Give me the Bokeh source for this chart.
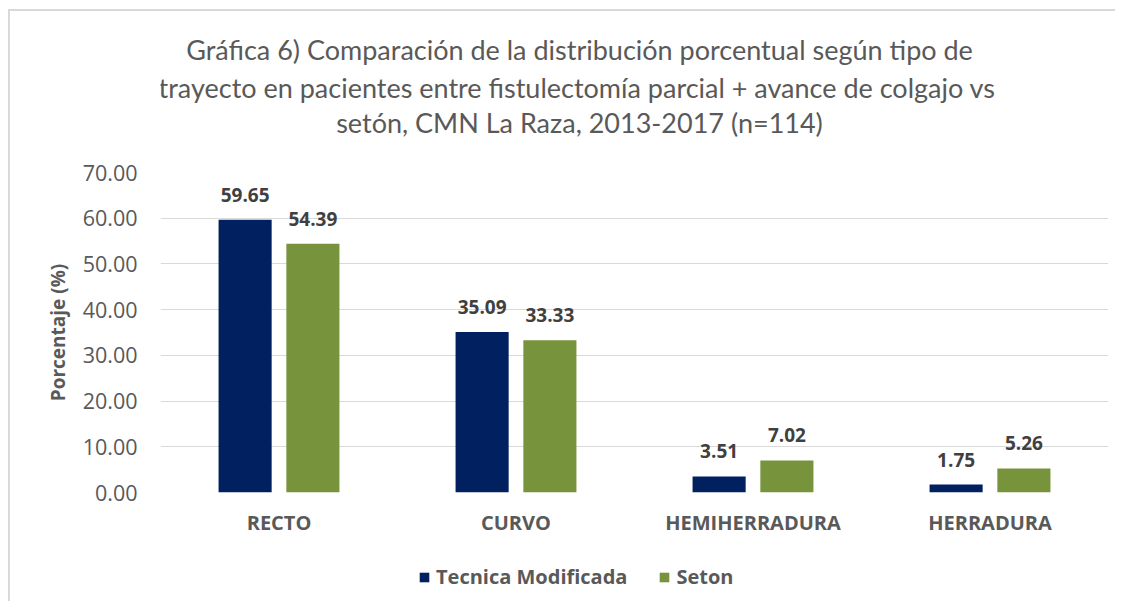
from bokeh.plotting import figure
from bokeh.layouts import column
from bokeh.models import (ColumnDataSource, FactorRange, FixedTicker, NumeralTickFormatter,
                          Legend, LegendItem, Range1d)
from bokeh.transform import dodge
from bokeh.core.properties import value
from bokeh.embed import file_html
from bokeh.resources import INLINE

categories = ["RECTO", "CURVO", "HEMIHERRADURA", "HERRADURA"]
tecnica_modificada = [59.65, 35.09, 3.51, 1.75]
seton = [54.39, 33.33, 7.02, 5.26]
series_names = ["Tecnica Modificada", "Seton"]
y_ticks = [0, 10, 20, 30, 40, 50, 60, 70]
title_lines = [
    "Gráfica 6) Comparación de la distribución porcentual según tipo de",
    "trayecto en pacientes  entre fistulectomía parcial + avance de colgajo vs",
    "setón, CMN La Raza, 2013-2017 (n=114)",
]
y_label = "Porcentaje (%)"

NAVY = "#002060"
GREEN = "#77933C"
GRAY = "#595959"
DARK = "#404040"
W = 1105
LEFT = 150
RIGHT = 7

# ---------------- title strip (frame shares the chart's left/right borders) ----------------
TH = 141
pt = figure(width=W, height=TH, x_range=Range1d(LEFT, W - RIGHT), y_range=Range1d(TH, 0),
            output_backend="svg", toolbar_location=None, title=None,
            x_axis_location=None, y_axis_location=None,
            min_border_left=LEFT, min_border_right=RIGHT,
            min_border_top=0, min_border_bottom=0)
pt.grid.visible = False
pt.outline_line_color = None
tsrc = ColumnDataSource(data=dict(txt=title_lines, x=[569, 570, 569], y=[38, 76, 111]))
pt.text(x="x", y="y", text="txt", source=tsrc, text_align="center", text_baseline="middle",
        text_font=value("Lato"), text_font_size="27px", text_color=GRAY)

# ---------------- main chart ----------------
src = ColumnDataSource(data=dict(
    cat=categories,
    tm=tecnica_modificada,
    se=seton,
    tm_lbl=[f"{v:.2f}" for v in tecnica_modificada],
    se_lbl=[f"{v:.2f}" for v in seton],
))

p = figure(
    x_range=FactorRange(*categories, range_padding=0),
    y_range=(0, 70),
    width=W, height=396,
    output_backend="svg", toolbar_location=None, title=None,
    min_border_left=LEFT, min_border_right=RIGHT, min_border_top=20, min_border_bottom=56,
)
p.outline_line_color = None
p.xgrid.grid_line_color = None
p.ygrid.grid_line_color = "#d9d9d9"
p.ygrid.grid_line_width = 1

bw = 0.224
p.vbar(x=dodge("cat", -0.143, range=p.x_range), top="tm", width=bw, source=src,
       fill_color=NAVY, line_color=None)
p.vbar(x=dodge("cat", 0.143, range=p.x_range), top="se", width=bw, source=src,
       fill_color=GREEN, line_color=None)

for off, col in [(-0.143, "tm"), (0.143, "se")]:
    p.text(x=dodge("cat", off, range=p.x_range), y=col, text=col + "_lbl", source=src,
           text_align="center", text_baseline="alphabetic", y_offset=-25,
           text_font=value("Open Sans"), text_font_style="bold",
           text_font_size="19px", text_color=DARK)

ya = p.yaxis[0]
ya.ticker = FixedTicker(ticks=y_ticks)
ya.formatter = NumeralTickFormatter(format="0.00")
ya.axis_line_color = None
ya.major_tick_line_color = None
ya.minor_tick_line_color = None
ya.major_label_standoff = 17
ya.major_label_text_font = "Open Sans"
ya.major_label_text_font_size = "21.5px"
ya.major_label_text_color = GRAY
ya.axis_label = y_label
ya.axis_label_text_font = "Open Sans"
ya.axis_label_text_font_style = "bold"
ya.axis_label_text_font_size = "19px"
ya.axis_label_text_color = GRAY
ya.axis_label_standoff = 9

xa = p.xaxis[0]
xa.axis_line_color = None
xa.major_tick_line_color = None
xa.minor_tick_line_color = None
xa.major_label_standoff = 10
xa.major_label_text_font = "Open Sans"
xa.major_label_text_font_style = "bold"
xa.major_label_text_font_size = "20px"
xa.major_label_text_color = GRAY

# ---------------- legend strip ----------------
LH = 53
pl = figure(width=W, height=LH, x_range=Range1d(0, 1), y_range=Range1d(0, 1),
            output_backend="svg", toolbar_location=None, title=None,
            x_axis_location=None, y_axis_location=None,
            min_border_left=LEFT, min_border_right=RIGHT,
            min_border_top=0, min_border_bottom=0)
pl.grid.visible = False
pl.outline_line_color = None
# zero-height proxies that only supply the legend swatches
g1 = pl.vbar(x=[0.5], top=[0], bottom=[0], width=0.01, fill_color=NAVY, line_color=None)
g2 = pl.vbar(x=[0.5], top=[0], bottom=[0], width=0.01, fill_color=GREEN, line_color=None)
legend = Legend(items=[LegendItem(label=series_names[0], renderers=[g1]),
                       LegendItem(label=series_names[1], renderers=[g2])],
                orientation="horizontal", location=(408 - LEFT, 11),
                border_line_color=None, background_fill_alpha=0,
                label_text_font="Open Sans", label_text_font_size="20px",
                label_text_color=GRAY, label_text_font_style="bold",
                glyph_width=12, glyph_height=12, spacing=31, label_standoff=6,
                margin=0, padding=2)
pl.add_layout(legend, "center")

layout = column(pt, p, pl, spacing=0, margin=(9, 0, 0, 8),
                styles={"border-top": "2px solid #d9d9d9", "border-left": "2px solid #d9d9d9"})

open("out.html", "w").write(file_html(layout, INLINE))
